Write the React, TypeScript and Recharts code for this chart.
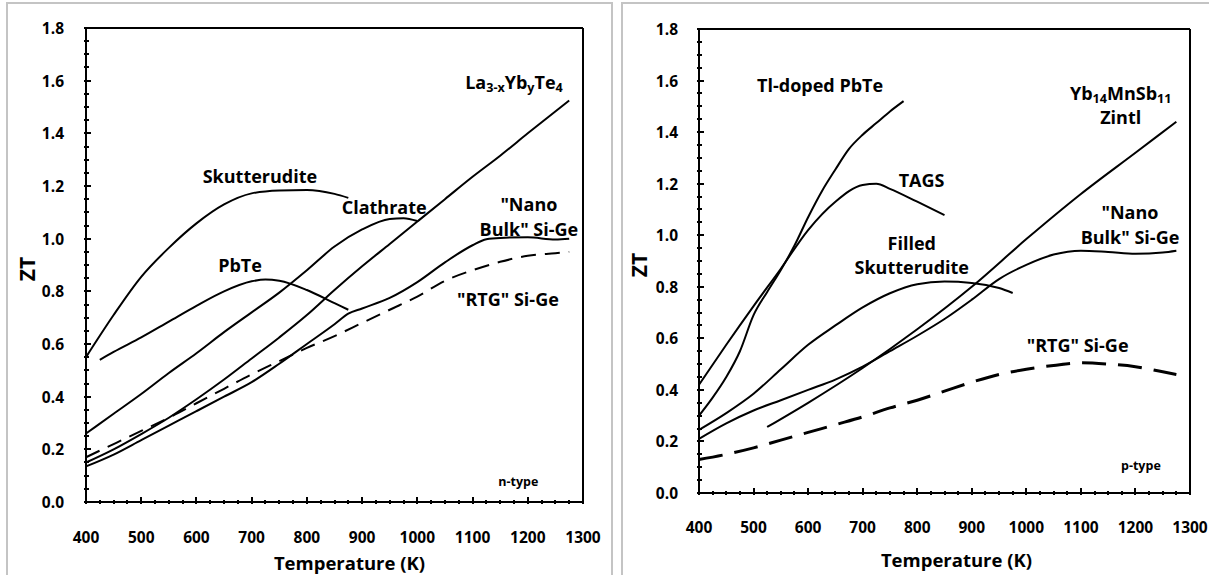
import { LineChart, Line, XAxis, YAxis, ReferenceDot } from 'recharts'

const FONT = '"Open Sans", Lato, sans-serif'

// axis ticks
const tempMajor = [400, 500, 600, 700, 800, 900, 1000, 1100, 1200, 1300]
const ztMajor = [0, 0.2, 0.4, 0.6, 0.8, 1.0, 1.2, 1.4, 1.6, 1.8]
const tempTicks = tempMajor.flatMap(t => (t < 1300 ? [t, t + 25, t + 50, t + 75] : [t]))
const ztTicks = ztMajor.flatMap(z => (z < 1.8 ? [z, z + 0.05, z + 0.1, z + 0.15] : [z]))

// n-type: [temperature K, ZT]
const nSkutterudite = [[400, 0.55], [450, 0.71], [500, 0.855], [550, 0.965], [600, 1.058], [650, 1.13], [700, 1.172], [750, 1.183], [800, 1.185], [850, 1.17], [875, 1.155]]
const nPbTe = [[425, 0.54], [450, 0.57], [500, 0.625], [550, 0.685], [600, 0.745], [650, 0.8], [700, 0.838], [725, 0.845], [750, 0.84], [800, 0.805], [850, 0.755], [875, 0.73]]
const nClathrate = [[400, 0.26], [450, 0.335], [500, 0.41], [550, 0.49], [600, 0.565], [650, 0.645], [700, 0.72], [750, 0.795], [800, 0.88], [850, 0.97], [900, 1.035], [950, 1.075], [975, 1.078], [1000, 1.067]]
const nLaYbTe = [[400, 0.15], [450, 0.2], [500, 0.258], [550, 0.32], [600, 0.39], [650, 0.465], [700, 0.545], [750, 0.625], [800, 0.71], [850, 0.805], [900, 0.895], [950, 0.98], [1000, 1.065], [1050, 1.15], [1100, 1.235], [1150, 1.315], [1200, 1.4], [1275, 1.525]]
const nNanoSiGe = [[400, 0.135], [450, 0.18], [500, 0.235], [550, 0.29], [600, 0.345], [650, 0.4], [700, 0.455], [750, 0.525], [800, 0.6], [850, 0.675], [875, 0.715], [900, 0.735], [950, 0.775], [1000, 0.835], [1050, 0.91], [1100, 0.975], [1125, 0.998], [1150, 1.003], [1200, 1.005], [1250, 0.997], [1275, 1.0]]
const nRtgSiGe = [[400, 0.17], [450, 0.22], [500, 0.27], [550, 0.32], [600, 0.375], [650, 0.43], [700, 0.485], [750, 0.535], [800, 0.585], [850, 0.63], [900, 0.68], [950, 0.73], [1000, 0.78], [1050, 0.84], [1100, 0.88], [1150, 0.912], [1200, 0.935], [1250, 0.945], [1275, 0.95]]

// p-type
const pTlPbTe = [[400, 0.3], [425, 0.37], [450, 0.45], [475, 0.55], [500, 0.69], [525, 0.78], [550, 0.865], [575, 0.96], [600, 1.07], [625, 1.17], [650, 1.255], [675, 1.335], [700, 1.39], [725, 1.435], [750, 1.48], [775, 1.52]]
const pTags = [[400, 0.42], [450, 0.575], [500, 0.725], [550, 0.87], [600, 1.02], [650, 1.13], [700, 1.195], [725, 1.2], [750, 1.18], [800, 1.13], [850, 1.078]]
const pFilledSkut = [[400, 0.245], [450, 0.31], [500, 0.385], [550, 0.48], [600, 0.575], [650, 0.65], [700, 0.72], [750, 0.775], [800, 0.81], [850, 0.82], [900, 0.815], [950, 0.795], [975, 0.776]]
const pZintl = [[525, 0.256], [600, 0.35], [700, 0.485], [800, 0.635], [900, 0.8], [1000, 0.985], [1100, 1.16], [1200, 1.32], [1275, 1.44]]
const pNanoSiGe = [[400, 0.21], [450, 0.27], [500, 0.32], [550, 0.36], [600, 0.4], [650, 0.44], [700, 0.49], [750, 0.55], [800, 0.61], [850, 0.675], [900, 0.75], [950, 0.83], [1000, 0.885], [1050, 0.925], [1100, 0.94], [1150, 0.935], [1200, 0.928], [1250, 0.933], [1275, 0.94]]
const pRtgSiGe = [[400, 0.13], [450, 0.15], [500, 0.175], [550, 0.205], [600, 0.235], [650, 0.265], [700, 0.295], [750, 0.33], [800, 0.36], [850, 0.395], [900, 0.43], [950, 0.46], [1000, 0.48], [1050, 0.495], [1100, 0.505], [1150, 0.5], [1200, 0.49], [1250, 0.47], [1275, 0.46]]

const toRows = (pts: number[][]) => pts.map(([t, zt]) => ({ t, zt }))

type Part = { s: string; sub?: boolean }
type Note = { x: number; y: number; lines: Part[][]; size?: number }

const nNotes: Note[] = [
  { x: 715, y: 1.238, lines: [[{ s: 'Skutterudite' }]] },
  { x: 679, y: 0.9, lines: [[{ s: 'PbTe' }]] },
  { x: 940, y: 1.12, lines: [[{ s: 'Clathrate' }]] },
  { x: 1175, y: 1.595, lines: [[{ s: 'La' }, { s: '3-x', sub: true }, { s: 'Yb' }, { s: 'y', sub: true }, { s: 'Te' }, { s: '4', sub: true }]] },
  { x: 1202, y: 1.083, lines: [[{ s: '"Nano' }], [{ s: 'Bulk" Si-Ge' }]] },
  { x: 1164, y: 0.771, lines: [[{ s: '"RTG" Si-Ge' }]] },
  { x: 1183, y: 0.08, lines: [[{ s: 'n-type' }]], size: 12.5 },
]

const pNotes: Note[] = [
  { x: 622, y: 1.583, lines: [[{ s: 'Tl-doped PbTe' }]] },
  { x: 808, y: 1.214, lines: [[{ s: 'TAGS' }]] },
  { x: 790, y: 0.923, lines: [[{ s: 'Filled' }], [{ s: 'Skutterudite' }]] },
  { x: 1173, y: 1.505, lines: [[{ s: 'Yb' }, { s: '14', sub: true }, { s: 'MnSb' }, { s: '11', sub: true }], [{ s: 'Zintl' }]] },
  { x: 1190, y: 1.042, lines: [[{ s: '"Nano' }], [{ s: 'Bulk" Si-Ge' }]] },
  { x: 1094, y: 0.574, lines: [[{ s: '"RTG" Si-Ge' }]] },
  { x: 1210, y: 0.109, lines: [[{ s: 'p-type' }]], size: 12.5 },
]

function noteLabel(note: Note) {
  const size = note.size ?? 18
  const lineH = size * 1.38
  return (props: any) => {
    const vb = props.viewBox || {}
    const cx = vb.x + (vb.width || 0) / 2
    const cy = vb.y + (vb.height || 0) / 2
    const top = cy - ((note.lines.length - 1) * lineH) / 2
    return (
      <g>
        {note.lines.map((parts, i) => (
          <text
            key={i}
            x={cx}
            y={top + i * lineH}
            textAnchor="middle"
            dominantBaseline="central"
            fontFamily={FONT}
            fontWeight={700}
            fontSize={size}
            fill="#000"
          >
            {parts.map((p, j) => {
              const prevSub = j > 0 && parts[j - 1].sub
              const dy = p.sub ? (prevSub ? 0 : 5) : prevSub ? -5 : 0
              return (
                <tspan key={j} dy={dy} fontSize={p.sub ? size * 0.7 : size}>
                  {p.s}
                </tspan>
              )
            })}
          </text>
        ))}
      </g>
    )
  }
}

const isMajor = (v: number, step: number) => Math.abs(v / step - Math.round(v / step)) < 1e-6

// inward tick marks (major longer) drawn with whole-pixel widths, labels only on majors
function renderXTick(props: any, labelDy: number) {
  const { x, y, payload } = props
  const major = isMajor(payload.value, 100)
  const len = major ? 7 : 4
  const px = Math.round(x)
  const py = Math.round(y)
  return (
    <g>
      <line x1={px} x2={px} y1={py} y2={py - len} stroke="#000" strokeWidth={2} />
      {major && (
        <text x={x} y={y + labelDy} textAnchor="middle" dominantBaseline="central" fontFamily={FONT} fontWeight={700} fontSize={15.5} fill="#000">
          {payload.value}
        </text>
      )}
    </g>
  )
}

function renderYTick(props: any, gap: number) {
  const { x, y, payload } = props
  const major = isMajor(payload.value, 0.2)
  const len = major ? 7 : 5
  const px = Math.round(x)
  const py = Math.round(y)
  return (
    <g>
      <line x1={px} x2={px + len} y1={py} y2={py} stroke="#000" strokeWidth={2} />
      {major && (
        <text x={x - gap} y={y} textAnchor="end" dominantBaseline="central" fontFamily={FONT} fontWeight={700} fontSize={15.5} fill="#000">
          {payload.value.toFixed(1)}
        </text>
      )}
    </g>
  )
}

interface Series {
  key: string
  pts: number[][]
  dash?: string
  width?: number
}

interface PanelProps {
  width: number
  margin: { top: number; right: number; bottom: number; left: number }
  yAxisWidth: number
  series: Series[]
  notes: Note[]
  xLabelDy: number
  xTitleDx: number
  xTitleDy: number
  zTitleX: number
  yGap: number
}

function Panel({ width, margin, yAxisWidth, series, notes, xLabelDy, xTitleDx, xTitleDy, zTitleX, yGap }: PanelProps) {
  return (
    <LineChart width={width} height={575} margin={margin}>
      {series.map(s => (
        <Line
          key={s.key}
          data={toRows(s.pts)}
          dataKey="zt"
          type="monotone"
          stroke="#000"
          strokeWidth={s.width ?? 2}
          strokeDasharray={s.dash}
          dot={false}
          activeDot={false}
          isAnimationActive={false}
        />
      ))}
      {notes.map((n, i) => (
        <ReferenceDot key={i} x={n.x} y={n.y} r={0} fill="none" stroke="none" label={noteLabel(n)} />
      ))}
      <XAxis
        type="number"
        dataKey="t"
        domain={[400, 1300]}
        ticks={tempTicks}
        interval={0}
        height={50}
        tickLine={false}
        tickSize={0}
        axisLine={{ stroke: '#000', strokeWidth: 2 }}
        tick={(p: any) => renderXTick(p, xLabelDy)}
        label={(p: any) => {
          const vb = p.viewBox
          return (
            <text x={vb.x + vb.width / 2 + xTitleDx} y={vb.y + xTitleDy} textAnchor="middle" dominantBaseline="central" fontFamily={FONT} fontWeight={700} fontSize={18.5} fill="#000">
              Temperature (K)
            </text>
          )
        }}
      />
      <XAxis xAxisId="top" orientation="top" type="number" domain={[400, 1300]} height={1} tick={false} tickLine={false} axisLine={{ stroke: '#000', strokeWidth: 2 }} />
      <YAxis
        type="number"
        domain={[0, 1.8]}
        ticks={ztTicks}
        interval={0}
        width={yAxisWidth}
        tickLine={false}
        tickSize={0}
        axisLine={{ stroke: '#000', strokeWidth: 2 }}
        tick={(p: any) => renderYTick(p, yGap)}
        label={(p: any) => {
          const vb = p.viewBox
          const cy = vb.y + vb.height / 2 + 4
          return (
            <text x={zTitleX} y={cy} transform={`rotate(-90 ${zTitleX} ${cy})`} textAnchor="middle" dominantBaseline="central" fontFamily={FONT} fontWeight={700} fontSize={21} fill="#000">
              ZT
            </text>
          )
        }}
      />
      <YAxis yAxisId="right" orientation="right" type="number" domain={[0, 1.8]} width={1} tick={false} tickLine={false} axisLine={{ stroke: '#000', strokeWidth: 2 }} />
    </LineChart>
  )
}

const nSeries: Series[] = [
  { key: 'skut', pts: nSkutterudite },
  { key: 'pbte', pts: nPbTe },
  { key: 'clath', pts: nClathrate },
  { key: 'la', pts: nLaYbTe },
  { key: 'nano', pts: nNanoSiGe },
  { key: 'rtg', pts: nRtgSiGe, dash: '15 9' },
]

const pSeries: Series[] = [
  { key: 'tl', pts: pTlPbTe },
  { key: 'tags', pts: pTags },
  { key: 'fskut', pts: pFilledSkut },
  { key: 'zintl', pts: pZintl },
  { key: 'nano', pts: pNanoSiGe },
  { key: 'rtg', pts: pRtgSiGe, dash: '24 12', width: 3 },
]

export default function App() {
  return (
    <div style={{ position: 'absolute', left: 0, top: 0, width: 1209, height: 575, overflow: 'hidden' }}>
      <div style={{ position: 'absolute', left: 6, top: 2, width: 607, height: 600, border: '2px solid #c4c4c4', boxSizing: 'border-box' }} />
      <div style={{ position: 'absolute', left: 621, top: 2, width: 600, height: 600, border: '2px solid #c4c4c4', boxSizing: 'border-box' }} />
      <div style={{ position: 'absolute', left: 0, top: 0 }}>
        <Panel
          width={612}
          margin={{ top: 27, right: 28, bottom: 23, left: 0 }}
          yAxisWidth={86}
          series={nSeries}
          notes={nNotes}
          xLabelDy={33}
          xTitleDx={15}
          xTitleDy={60}
          zTitleX={27}
          yGap={20}
        />
      </div>
      <div style={{ position: 'absolute', left: 600, top: 0 }}>
        <Panel
          width={609}
          margin={{ top: 28, right: 18, bottom: 32, left: 0 }}
          yAxisWidth={99}
          series={pSeries}
          notes={pNotes}
          xLabelDy={32}
          xTitleDx={12}
          xTitleDy={66}
          zTitleX={39}
          yGap={19}
        />
      </div>
    </div>
  )
}
